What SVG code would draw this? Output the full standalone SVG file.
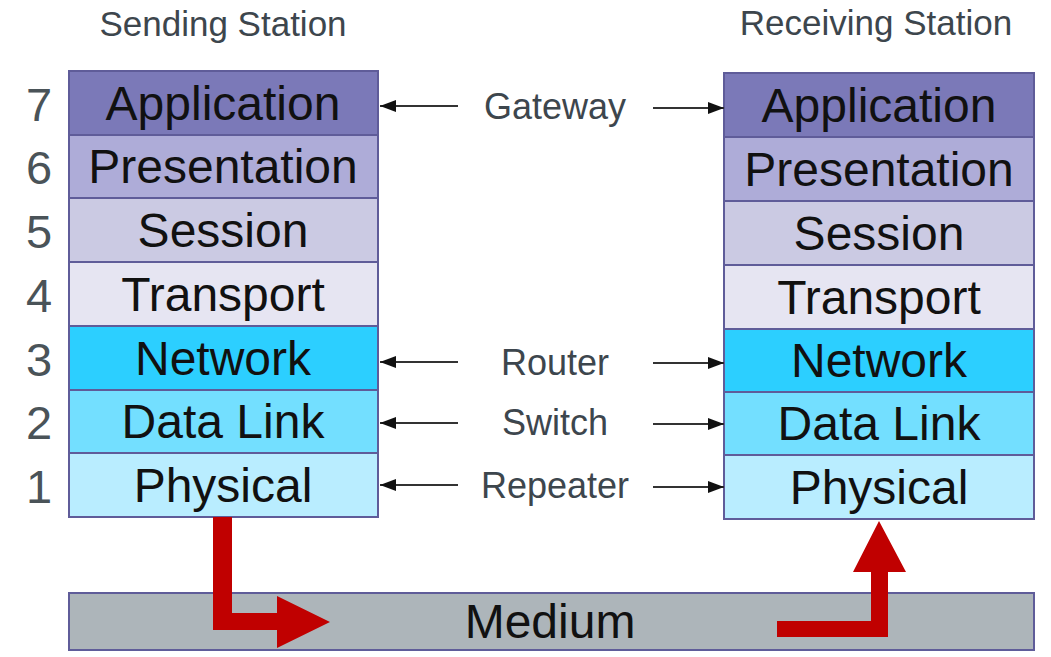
<svg xmlns="http://www.w3.org/2000/svg" width="1051" height="657" viewBox="0 0 1051 657">
  <style>
    .layer { stroke: #5f5c99; stroke-width: 2; }
    .lt { font-family: "Liberation Sans", Arial, sans-serif; font-size: 48px; fill: #111; text-anchor: middle; }
    .num { font-family: "Liberation Sans", Arial, sans-serif; font-size: 47px; fill: #4a5358; text-anchor: middle; }
    .title { font-family: "Liberation Sans", Arial, sans-serif; font-size: 35px; fill: #3d464d; text-anchor: middle; }
    .dev { font-family: "Liberation Sans", Arial, sans-serif; font-size: 36px; fill: #3d464d; text-anchor: middle; }
    .conn { stroke: #333; stroke-width: 1.8; marker-end: url(#head); }
    .red { fill: #c00000; }
    .l7 { fill: #7b79b8; } .l6 { fill: #aeacd8; } .l5 { fill: #cbcae3; } .l4 { fill: #e6e5f2; }
    .l3 { fill: #2ccfff; } .l2 { fill: #73dfff; } .l1 { fill: #b9edff; }
  </style>
  <defs>
    <marker id="head" viewBox="0 0 16 12" refX="16" refY="6" markerWidth="16" markerHeight="12" markerUnits="userSpaceOnUse" orient="auto">
      <path d="M0,0 L16,6 L0,12 z" fill="#111"/>
    </marker>
  </defs>

  <rect width="1051" height="657" fill="#fff"/>

  <text class="title" x="223" y="36">Sending Station</text>
  <text class="title" x="876" y="35">Receiving Station</text>

  <!-- layer numbers -->
  <g id="numbers">
    <text class="num" x="39" y="121">7</text>
    <text class="num" x="39" y="184">6</text>
    <text class="num" x="39" y="248">5</text>
    <text class="num" x="39" y="312">4</text>
    <text class="num" x="39" y="376">3</text>
    <text class="num" x="39" y="439">2</text>
    <text class="num" x="39" y="503">1</text>
  </g>

  <!-- sending stack -->
  <g id="sending-station">
    <g id="s-application"><rect class="layer l7" x="69" y="71" width="309" height="64"/><text class="lt" x="223" y="120">Application</text></g>
    <g id="s-presentation"><rect class="layer l6" x="69" y="135" width="309" height="63"/><text class="lt" x="223" y="183">Presentation</text></g>
    <g id="s-session"><rect class="layer l5" x="69" y="198" width="309" height="64"/><text class="lt" x="223" y="247">Session</text></g>
    <g id="s-transport"><rect class="layer l4" x="69" y="262" width="309" height="64"/><text class="lt" x="223" y="311">Transport</text></g>
    <g id="s-network"><rect class="layer l3" x="69" y="326" width="309" height="64"/><text class="lt" x="223" y="375">Network</text></g>
    <g id="s-datalink"><rect class="layer l2" x="69" y="390" width="309" height="63"/><text class="lt" x="223" y="438">Data Link</text></g>
    <g id="s-physical"><rect class="layer l1" x="69" y="453" width="309" height="64"/><text class="lt" x="223" y="502">Physical</text></g>
  </g>

  <!-- receiving stack -->
  <g id="receiving-station">
    <g id="r-application"><rect class="layer l7" x="724" y="73" width="310" height="64"/><text class="lt" x="879" y="122">Application</text></g>
    <g id="r-presentation"><rect class="layer l6" x="724" y="137" width="310" height="64"/><text class="lt" x="879" y="186">Presentation</text></g>
    <g id="r-session"><rect class="layer l5" x="724" y="201" width="310" height="64"/><text class="lt" x="879" y="250">Session</text></g>
    <g id="r-transport"><rect class="layer l4" x="724" y="265" width="310" height="64"/><text class="lt" x="879" y="314">Transport</text></g>
    <g id="r-network"><rect class="layer l3" x="724" y="329" width="310" height="63"/><text class="lt" x="879" y="377">Network</text></g>
    <g id="r-datalink"><rect class="layer l2" x="724" y="392" width="310" height="63"/><text class="lt" x="879" y="440">Data Link</text></g>
    <g id="r-physical"><rect class="layer l1" x="724" y="455" width="310" height="64"/><text class="lt" x="879" y="504">Physical</text></g>
  </g>

  <!-- transmission medium -->
  <g id="medium">
    <rect x="69" y="593" width="965" height="57" fill="#adb5ba" stroke="#5f5c99" stroke-width="2"/>
    <text class="lt" x="550" y="638">Medium</text>
  </g>

  <!-- device labels -->
  <g id="devices">
    <text class="dev" x="555" y="119">Gateway</text>
    <text class="dev" x="555" y="375">Router</text>
    <text class="dev" x="555" y="435">Switch</text>
    <text class="dev" x="555" y="498">Repeater</text>
  </g>

  <!-- connectors -->
  <g id="connectors">
    <line class="conn" x1="458" y1="106" x2="380" y2="106"/>
    <line class="conn" x1="653" y1="108" x2="724" y2="108"/>
    <line class="conn" x1="458" y1="362" x2="380" y2="362"/>
    <line class="conn" x1="653" y1="363" x2="724" y2="363"/>
    <line class="conn" x1="458" y1="423" x2="380" y2="423"/>
    <line class="conn" x1="653" y1="424" x2="724" y2="424"/>
    <line class="conn" x1="458" y1="485" x2="380" y2="485"/>
    <line class="conn" x1="653" y1="487" x2="724" y2="487"/>

    <!-- signal down into the medium -->
    <path class="red" d="M213,517 L232,517 L232,613 L277,613 L277,596 L330,622 L277,648 L277,630 L213,630 Z"/>
    <!-- signal up out of the medium -->
    <path class="red" d="M777,621 L871,621 L871,572 L853,572 L879,521 L906,572 L888,572 L888,637 L777,637 Z"/>
  </g>
</svg>
